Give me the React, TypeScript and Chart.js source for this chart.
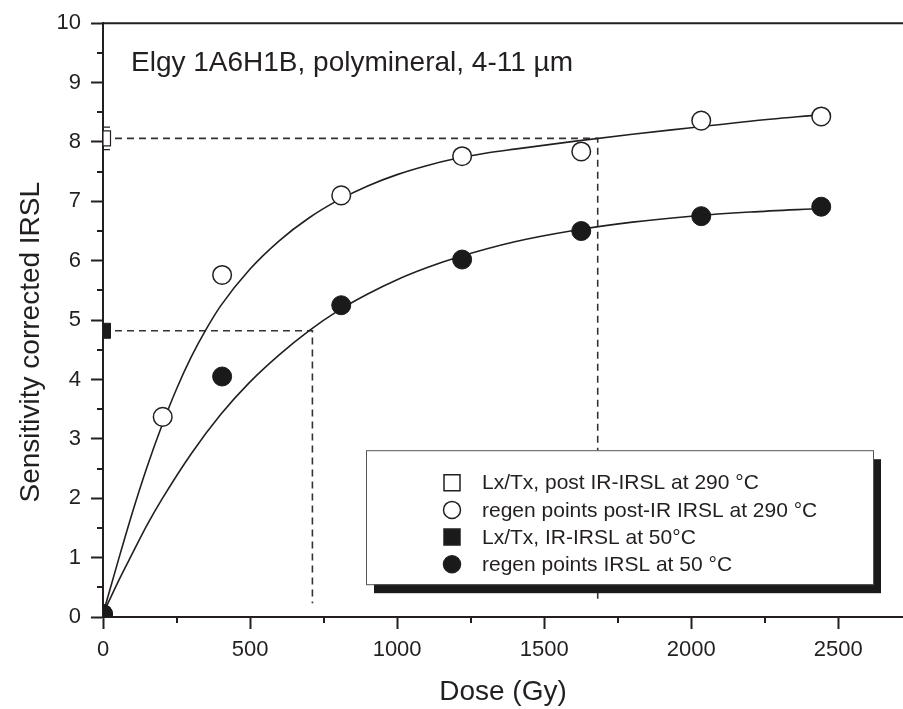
import { useEffect, useRef } from "react";
import { Chart, registerables } from "chart.js";

Chart.register(...registerables);

const FONT = "'Liberation Sans', Arial, Helvetica, sans-serif";
const INK = "#231f20";

// Regeneration doses (Gy) and sensitivity-corrected IRSL values
const postIrDoses = [0, 203, 405, 810, 1221, 1626, 2034, 2442];
const postIrValues = [0.05, 3.37, 5.76, 7.1, 7.76, 7.84, 8.36, 8.43];
const irslDoses = [0, 405, 810, 1221, 1626, 2034, 2442];
const irslValues = [0.05, 4.05, 5.25, 6.02, 6.5, 6.75, 6.91];

// Natural Lx/Tx values (plotted at dose 0) with error
const lxTxPostIr = 8.06;
const lxTxPostIrErr = 0.19;
const lxTxIrsl = 4.82;

// Fitted growth curves
const curvePostIrDoses = [0, 50, 100, 150, 200, 250, 300, 350, 400, 500, 600, 700, 800, 900, 1000, 1100, 1200, 1300, 1400, 1600, 1800, 2000, 2200, 2442];
const curvePostIrValues = [0.05, 0.92, 1.76, 2.53, 3.22, 3.84, 4.38, 4.84, 5.24, 5.86, 6.34, 6.72, 7.02, 7.26, 7.45, 7.6, 7.72, 7.81, 7.88, 8.01, 8.13, 8.24, 8.35, 8.46];
const curveIrslDoses = [0, 50, 100, 150, 200, 300, 400, 500, 600, 700, 800, 900, 1000, 1100, 1200, 1400, 1600, 1800, 2000, 2200, 2442];
const curveIrslValues = [0.05, 0.58, 1.07, 1.55, 1.98, 2.75, 3.41, 3.96, 4.42, 4.82, 5.16, 5.44, 5.68, 5.88, 6.05, 6.32, 6.51, 6.65, 6.75, 6.82, 6.88];

// Equivalent dose read-out lines
const dePostIr = 1682;
const deIrsl = 712;
const dropLineBottom = 0.23;

// Axis ranges and ticks
const xMin = 0;
const xMax = 2720;
const xMajorTicks = [0, 500, 1000, 1500, 2000, 2500];
const xMinorTicks = [250, 750, 1250, 1750, 2250];
const yMin = 0;
const yMax = 10;
const yMajorTicks = [0, 1, 2, 3, 4, 5, 6, 7, 8, 9, 10];
const yMinorTicks = [0.5, 1.5, 2.5, 3.5, 4.5, 5.5, 6.5, 7.5, 8.5, 9.5];

const legendLabels = [
  "Lx/Tx, post IR-IRSL at 290 °C",
  "regen points post-IR IRSL at 290 °C",
  "Lx/Tx, IR-IRSL at 50°C",
  "regen points IRSL at 50 °C",
];
const legendShapes = ["openSquare", "openCircle", "filledSquare", "filledCircle"];
const annotationText = "Elgy 1A6H1B, polymineral, 4-11 µm";
const xTitle = "Dose (Gy)";
const yTitle = "Sensitivity corrected IRSL";

const pts = (xs: number[], ys: number[]) => xs.map((x, i) => ({ x, y: ys[i] }));

const decorPlugin = {
  id: "decor",
  afterDatasetsDraw(chart: any) {
    const { ctx, chartArea } = chart;
    const xs = chart.scales.x;
    const ys = chart.scales.y;
    ctx.save();

    // error bar on post-IR Lx/Tx (clipped to chart area)
    ctx.save();
    ctx.beginPath();
    ctx.rect(chartArea.left, chartArea.top, chartArea.right - chartArea.left, chartArea.bottom - chartArea.top);
    ctx.clip();
    ctx.strokeStyle = INK;
    ctx.lineWidth = 1.2;
    const ex = xs.getPixelForValue(0);
    const eTop = ys.getPixelForValue(lxTxPostIr + lxTxPostIrErr);
    const eBot = ys.getPixelForValue(lxTxPostIr - lxTxPostIrErr);
    ctx.beginPath();
    ctx.moveTo(ex, eTop);
    ctx.lineTo(ex, eBot);
    ctx.moveTo(ex - 7, eTop);
    ctx.lineTo(ex + 7, eTop);
    ctx.moveTo(ex - 7, eBot);
    ctx.lineTo(ex + 7, eBot);
    ctx.stroke();
    ctx.restore();

    // top frame line
    ctx.strokeStyle = INK;
    ctx.lineWidth = 2;
    ctx.beginPath();
    ctx.moveTo(chartArea.left - 1, chartArea.top);
    ctx.lineTo(chartArea.right, chartArea.top);
    ctx.stroke();

    // minor ticks
    ctx.lineWidth = 2;
    ctx.beginPath();
    xMinorTicks.forEach((v) => {
      const px = Math.round(xs.getPixelForValue(v));
      ctx.moveTo(px, chartArea.bottom);
      ctx.lineTo(px, chartArea.bottom + 6);
    });
    yMinorTicks.forEach((v) => {
      const py = Math.round(ys.getPixelForValue(v));
      ctx.moveTo(chartArea.left, py);
      ctx.lineTo(chartArea.left - 6, py);
    });
    ctx.stroke();

    // annotation
    ctx.fillStyle = INK;
    ctx.font = `28px ${FONT}`;
    ctx.textAlign = "left";
    ctx.textBaseline = "alphabetic";
    ctx.fillText(annotationText, chartArea.left + 28, chartArea.top + 47.5);

    // y title
    ctx.save();
    ctx.font = `28px ${FONT}`;
    ctx.translate(39, chartArea.top + 319);
    ctx.rotate(-Math.PI / 2);
    ctx.textAlign = "center";
    ctx.textBaseline = "alphabetic";
    ctx.fillText(yTitle, 0, 0);
    ctx.restore();

    // legend box with shadow
    const bx = chartArea.left + 263;
    const by = chartArea.top + 427;
    const bw = 507;
    const bh = 134;
    ctx.fillStyle = "#1a1a1a";
    ctx.fillRect(bx + 8, by + 9, bw, bh);
    ctx.fillStyle = "#ffffff";
    ctx.fillRect(bx, by, bw, bh);
    ctx.strokeStyle = "#555";
    ctx.lineWidth = 1;
    ctx.strokeRect(bx + 0.5, by + 0.5, bw, bh);

    ctx.font = `21px ${FONT}`;
    ctx.textBaseline = "middle";
    ctx.textAlign = "left";
    legendLabels.forEach((label, i) => {
      const cy = by + 32.5 + i * 27.2;
      const cx = bx + 86;
      const shape = legendShapes[i];
      ctx.lineWidth = 1.5;
      ctx.strokeStyle = INK;
      if (shape.endsWith("Square")) {
        ctx.beginPath();
        ctx.rect(cx - 8, cy - 8, 16, 16);
      } else {
        ctx.beginPath();
        ctx.arc(cx, cy, 8.5, 0, Math.PI * 2);
      }
      ctx.fillStyle = shape.startsWith("filled") ? "#1a1a1a" : "#ffffff";
      ctx.fill();
      ctx.stroke();
      ctx.fillStyle = INK;
      ctx.fillText(label, bx + 116, cy + 1);
    });

    ctx.restore();
  },
};

export default function App() {
  const ref = useRef<HTMLCanvasElement>(null);

  useEffect(() => {
    const canvas = ref.current;
    if (!canvas) return;
    const chart = new Chart(canvas, {
      type: "scatter",
      data: {
        datasets: [
          {
            label: "regen points IRSL at 50 °C",
            data: pts(irslDoses, irslValues),
            pointStyle: "circle",
            pointRadius: 9.5,
            pointBackgroundColor: "#1a1a1a",
            pointBorderColor: "#1a1a1a",
            pointBorderWidth: 1,
            showLine: false,
            clip: 0,
          },
          {
            label: "regen points post-IR IRSL at 290 °C",
            data: pts(postIrDoses, postIrValues),
            pointStyle: "circle",
            pointRadius: 9.3,
            pointBackgroundColor: "#ffffff",
            pointBorderColor: INK,
            pointBorderWidth: 1.5,
            showLine: false,
            clip: 0,
          },
          {
            label: "Lx/Tx, IR-IRSL at 50°C",
            data: [{ x: 0, y: lxTxIrsl }],
            pointStyle: "rect",
            pointRadius: 10.6,
            pointBackgroundColor: "#1a1a1a",
            pointBorderColor: "#1a1a1a",
            pointBorderWidth: 1,
            showLine: false,
            clip: 0,
          },
          {
            label: "Lx/Tx, post IR-IRSL at 290 °C",
            data: [{ x: 0, y: lxTxPostIr }],
            pointStyle: "rect",
            pointRadius: 10.6,
            pointBackgroundColor: "#ffffff",
            pointBorderColor: INK,
            pointBorderWidth: 1.2,
            showLine: false,
            clip: 0,
          },
          {
            label: "fit post-IR",
            data: pts(curvePostIrDoses, curvePostIrValues),
            showLine: true,
            pointRadius: 0,
            borderColor: INK,
            borderWidth: 1.6,
            cubicInterpolationMode: "monotone",
            clip: 0,
          },
          {
            label: "fit IRSL",
            data: pts(curveIrslDoses, curveIrslValues),
            showLine: true,
            pointRadius: 0,
            borderColor: INK,
            borderWidth: 1.6,
            cubicInterpolationMode: "monotone",
            clip: 0,
          },
          {
            label: "De post-IR",
            data: [
              { x: 0, y: lxTxPostIr },
              { x: dePostIr, y: lxTxPostIr },
              { x: dePostIr, y: dropLineBottom },
            ],
            showLine: true,
            pointRadius: 0,
            borderColor: "#333",
            borderWidth: 1.6,
            borderDash: [7, 5],
            tension: 0,
            clip: 0,
          },
          {
            label: "De IRSL",
            data: [
              { x: 0, y: lxTxIrsl },
              { x: deIrsl, y: lxTxIrsl },
              { x: deIrsl, y: dropLineBottom },
            ],
            showLine: true,
            pointRadius: 0,
            borderColor: "#333",
            borderWidth: 1.6,
            borderDash: [7, 5],
            tension: 0,
            clip: 0,
          },
        ],
      },
      options: {
        responsive: false,
        animation: false,
        devicePixelRatio: 1,
        layout: { autoPadding: false, padding: { top: 22, right: 0, bottom: 0, left: 0 } },
        plugins: {
          legend: { display: false },
          tooltip: { enabled: false },
        },
        scales: {
          x: {
            type: "linear",
            position: "bottom",
            min: xMin,
            max: xMax,
            afterBuildTicks: (s: any) => {
              s.ticks = xMajorTicks.map((v) => ({ value: v }));
            },
            afterFit: (s: any) => {
              s.height = 92;
              s.paddingLeft = 0;
              s.paddingRight = 0;
            },
            ticks: {
              autoSkip: false,
              maxRotation: 0,
              padding: 8,
              color: INK,
              font: { family: FONT, size: 22 },
              callback: (v: any) => String(v),
            },
            grid: {
              display: true,
              drawOnChartArea: false,
              drawTicks: true,
              tickLength: 12,
              tickWidth: 2,
              tickColor: INK,
            },
            border: { display: true, width: 2, color: INK },
            title: {
              display: true,
              text: xTitle,
              color: INK,
              font: { family: FONT, size: 28 },
              padding: { top: 0, bottom: 0 },
            },
          },
          y: {
            type: "linear",
            position: "left",
            min: yMin,
            max: yMax,
            afterBuildTicks: (s: any) => {
              s.ticks = yMajorTicks.map((v) => ({ value: v }));
            },
            afterFit: (s: any) => {
              s.width = 103;
            },
            ticks: {
              autoSkip: false,
              padding: 10,
              color: INK,
              font: { family: FONT, size: 22 },
              callback: (v: any) => String(v),
            },
            grid: {
              display: true,
              drawOnChartArea: false,
              drawTicks: true,
              tickLength: 12,
              tickWidth: 2,
              tickColor: INK,
            },
            border: { display: true, width: 2, color: INK },
          },
        },
      },
      plugins: [decorPlugin],
    });
    return () => chart.destroy();
  }, []);

  return (
    <div style={{ position: "fixed", left: 0, top: 0, width: 903, height: 709, background: "#fff", overflow: "hidden" }}>
      <canvas ref={ref} width={903} height={709} style={{ display: "block", width: 903, height: 709 }} />
    </div>
  );
}
